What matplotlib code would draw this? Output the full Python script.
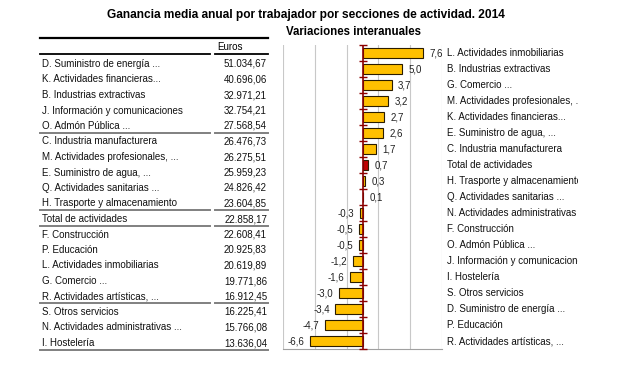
import matplotlib
matplotlib.use("Agg")
import matplotlib.pyplot as plt
from matplotlib.lines import Line2D

plt.rcParams['font.family'] = ['Liberation Sans', 'DejaVu Sans']

# tabla de ganancia media (euros)
table_names = [
    "D. Suministro de energía ...", "K. Actividades financieras...",
    "B. Industrias extractivas", "J. Información y comunicaciones",
    "O. Admón Pública ...", "C. Industria manufacturera",
    "M. Actividades profesionales, ...", "E. Suministro de agua, ...",
    "Q. Actividades sanitarias ...", "H. Trasporte y almacenamiento",
    "Total de actividades", "F. Construcción", "P. Educación",
    "L. Actividades inmobiliarias", "G. Comercio ...",
    "R. Actividades artísticas, ...", "S. Otros servicios",
    "N. Actividades administrativas ...", "I. Hostelería",
]
table_euros = [
    51034.67, 40696.06, 32971.21, 32754.21, 27568.54, 26476.73, 26275.51,
    25959.23, 24826.42, 23604.85, 22858.17, 22608.41, 20925.83, 20619.89,
    19771.86, 16912.45, 16225.41, 15766.08, 13636.04,
]
# filas tras las que hay separador
table_breaks = [4, 9, 10, 15]

# variaciones interanuales (%)
var_names = [
    "L. Actividades inmobiliarias", "B. Industrias extractivas",
    "G. Comercio ...", "M. Actividades profesionales, ...",
    "K. Actividades financieras...", "E. Suministro de agua, ...",
    "C. Industria manufacturera", "Total de actividades",
    "H. Trasporte y almacenamiento", "Q. Actividades sanitarias ...",
    "N. Actividades administrativas ...", "F. Construcción",
    "O. Admón Pública ...", "J. Información y comunicaciones",
    "I. Hostelería", "S. Otros servicios", "D. Suministro de energía ...",
    "P. Educación", "R. Actividades artísticas, ...",
]
var_values = [7.6, 5.0, 3.7, 3.2, 2.7, 2.6, 1.7, 0.7, 0.3, 0.1,
              -0.3, -0.5, -0.5, -1.2, -1.6, -3.0, -3.4, -4.7, -6.6]


def fmt_euros(v):
    s = f"{v:,.2f}"
    return s.replace(",", "X").replace(".", ",").replace("X", ".")


W, H = 620, 368
fig = plt.figure(figsize=(W / 100, H / 100), dpi=100)

# capa en pixeles para titulos y tabla
bg = fig.add_axes([0, 0, 1, 1])
bg.set_xlim(0, W)
bg.set_ylim(H, 0)
bg.axis('off')

bg.text(306, 15, "Ganancia media anual por trabajador por secciones de actividad. 2014",
        ha='center', va='center', fontsize=8.6, fontweight='bold')
bg.text(354, 32, "Variaciones interanuales", ha='center', va='center',
        fontsize=8.3, fontweight='bold')

# tabla
x0, xsplit1, xsplit2, x1 = 40, 210, 215, 268
bg.add_line(Line2D([x0, x1], [38, 38], color='black', lw=1.6))
bg.text(217, 47, "Euros", ha='left', va='center', fontsize=7)
bg.add_line(Line2D([x0, xsplit1], [54, 54], color='black', lw=1.3))
bg.add_line(Line2D([xsplit2, x1], [54, 54], color='black', lw=1.3))

row0, step = 64, 15.5
for i, (name, val) in enumerate(zip(table_names, table_euros)):
    y = row0 + i * step
    bg.text(42, y, name, ha='left', va='center', fontsize=7, color='#111111')
    bg.text(267, y, fmt_euros(val), ha='right', va='center', fontsize=7,
            color='#111111')
for i in table_breaks:
    y = row0 + i * step + 6.5
    bg.add_line(Line2D([x0, xsplit1], [y, y], color='#808080', lw=1.4))
    bg.add_line(Line2D([xsplit2, x1], [y, y], color='#808080', lw=1.4))
yb = row0 + (len(table_names) - 1) * step + 7
bg.add_line(Line2D([x0, x1], [yb, yb], color='#808080', lw=1.4))

# grafico de barras
top, bottom = 45, 349
ax = fig.add_axes([283 / W, 1 - bottom / H, 159 / W, (bottom - top) / H])
n = len(var_values)
ypos = list(range(n))
colors = ['#C00000' if nm.startswith("Total") else '#FFC000' for nm in var_names]
ax.barh(ypos, var_values, height=0.6, color=colors, edgecolor='#2b1d00',
        linewidth=0.8, zorder=3)
ax.set_xlim(-10, 10)
ax.set_ylim(n - 0.5, -0.5)
ax.set_xticks([-10, -6, -2, 2, 6, 10])
ax.grid(axis='x', color='#c8c8c8', lw=0.8, zorder=0)
ax.tick_params(left=False, bottom=False, labelleft=False, labelbottom=False)
for s in ['top', 'left', 'right']:
    ax.spines[s].set_visible(False)
ax.spines['bottom'].set_color('#a0a0a0')
ax.set_yticks([])

# eje cero con marcas
ax.axvline(0, color='#8B0000', lw=1.2, zorder=4)
ax.plot([0] * (n + 1), [i - 0.5 for i in range(n + 1)], ls='none',
        marker='_', ms=5.5, mew=1.0, color='#8B0000', zorder=4, clip_on=False)

for y, v in zip(ypos, var_values):
    lab = f"{v:.1f}".replace(".", ",")
    if v >= 0:
        ax.annotate(lab, (v, y), xytext=(4.5, 0), textcoords='offset points',
                    ha='left', va='center', fontsize=7, color='#222222')
    else:
        ax.annotate(lab, (v, y), xytext=(-4, 0), textcoords='offset points',
                    ha='right', va='center', fontsize=7, color='#222222')

# etiquetas de categoria (recortadas como en el original)
lx0, lx1 = 445, 578
lab_ax = fig.add_axes([lx0 / W, 1 - bottom / H, (lx1 - lx0) / W, (bottom - top) / H])
lab_ax.set_xlim(lx0, lx1)
lab_ax.set_ylim(n - 0.5, -0.5)
lab_ax.axis('off')
for y, nm in zip(ypos, var_names):
    lab_ax.text(447, y, nm, ha='left', va='center', fontsize=7,
                color='#111111', clip_on=True)

fig.savefig("out.png", dpi=100)
